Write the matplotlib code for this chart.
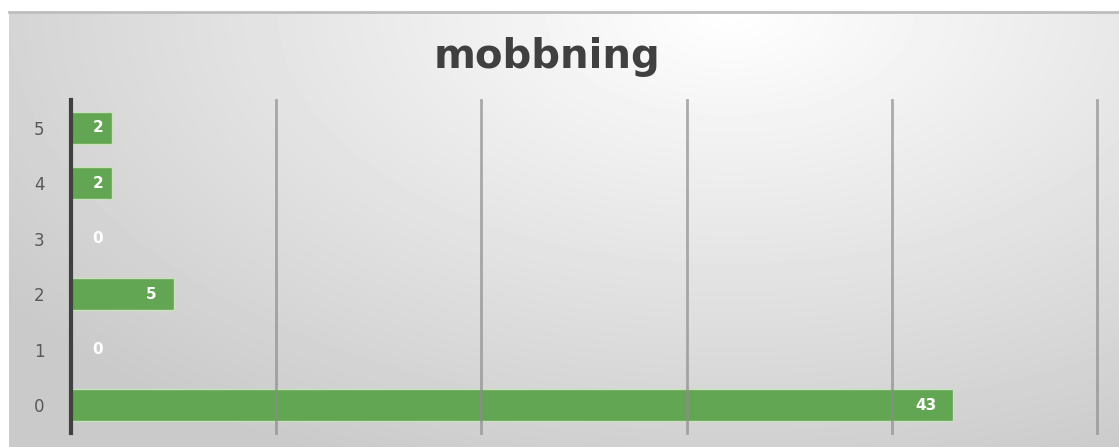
import numpy as np
import matplotlib
matplotlib.use("Agg")
import matplotlib.pyplot as plt

# data
categories = ["0", "1", "2", "3", "4", "5"]
values = [43, 0, 5, 0, 2, 2]
title = "mobbning"

W, H = 1119, 447
fig = plt.figure(figsize=(W / 100, H / 100), dpi=100)
fig.patch.set_facecolor("white")

# background with soft radial gradient
bg = fig.add_axes([9 / W, 0, 1 - 9 / W, (H - 12) / H])
yy, xx = np.mgrid[0:435, 0:1110]
d = np.sqrt(((xx - 720) / 900.0) ** 2 + ((yy - 0) / 500.0) ** 2)
shade = 1.0 - 0.21 * np.clip(d, 0, 1)
bg.imshow(shade, cmap="gray", vmin=0, vmax=1, aspect="auto",
          extent=[0, 1, 0, 1], origin="upper", interpolation="bilinear")
bg.set_xlim(0, 1)
bg.set_ylim(0, 1)
bg.axis("off")
bg.plot([0, 1], [1, 1], color="#bdbdbd", lw=2, transform=bg.transAxes, clip_on=False)

ax = fig.add_axes([71 / W, (H - 433) / H, (1097 - 71) / W, (433 - 100) / H])
ax.patch.set_alpha(0)
y = np.arange(len(categories))
ax.barh(y, values, height=0.58, color="#62a552", edgecolor="#c9e2bd", linewidth=1, zorder=2)

ax.set_xlim(0, 50)
ax.set_ylim(-0.5, 5.5)
ax.set_xticks([10, 20, 30, 40, 50])
ax.set_xticklabels([])
ax.grid(axis="x", color="#8c8c8c", linewidth=2, alpha=0.7, zorder=3)
for gl in ax.get_xgridlines():
    gl.set_clip_on(False)
ax.set_axisbelow(False)
ax.tick_params(length=0)
ax.set_yticks(y)
ax.set_yticklabels(categories, color="#595959", fontsize=12, fontfamily="DejaVu Sans")
ax.tick_params(axis="y", pad=19)
for s in ["top", "right", "bottom"]:
    ax.spines[s].set_visible(False)
ax.spines["left"].set_color("#404040")
ax.spines["left"].set_linewidth(3)
ax.spines["left"].set_zorder(5)

for yi, v in zip(y, values):
    ax.annotate(str(v), (max(v, 2.4), yi), xytext=(-17, 0), textcoords="offset pixels",
                ha="right", va="center", color="white", fontweight="bold",
                fontsize=11, fontfamily="DejaVu Sans", zorder=6)

fig.text(547 / W, 1 - 57 / H, title, ha="center", va="center", fontsize=29,
         fontweight="bold", color="#404040", fontfamily="DejaVu Sans")

fig.savefig("out.png", dpi=100)
